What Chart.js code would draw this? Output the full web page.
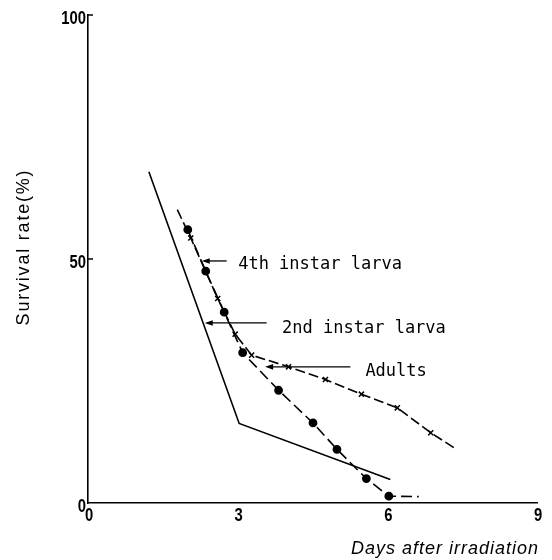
<!DOCTYPE html>
<html>
<head>
<meta charset="utf-8">
<script src="https://cdn.jsdelivr.net/npm/chart.js@4/dist/chart.umd.min.js"></script>
<style>
  html, body { margin: 0; padding: 0; background: #fff; }
  #wrap { width: 552px; height: 560px; position: relative; }
</style>
</head>
<body>
<div id="wrap"><canvas id="survivalChart" width="552" height="560"></canvas></div>
<script>
'use strict';

// values (days, survival %)
var days2nd = [1.22, 3.03, 6.06];
var surv2nd = [67.9, 16.3, 4.8];

var days4th = [2.00, 2.36, 2.73, 3.10, 3.82, 4.51, 4.99, 5.58, 6.03, 6.63];
var surv4th = [56.0, 47.5, 39.1, 30.8, 23.1, 16.4, 11.0, 5.0, 1.4, 1.3];

var daysAdult = [1.79, 2.06, 2.60, 2.95, 3.28, 4.02, 4.76, 5.48, 6.20, 6.87, 7.37];
var survAdult = [60.1, 54.3, 41.9, 34.6, 30.3, 27.9, 25.3, 22.3, 19.5, 14.4, 11.1];

var xTicks = [0, 3, 6, 9];
var yTicks = [0, 50, 100];

// labels with arrows: [text, arrow tip x, arrow tail x, arrow y, text x, text y]
var labels = [
  ['4th instar larva', 2.28, 2.78, 49.6, 3.01, 48.8],
  ['2nd instar larva', 2.34, 3.58, 36.9, 3.89, 35.8],
  ['Adults',           3.55, 5.26, 27.9, 5.56, 27.0]
];

function toPoints(xs, ys) {
  var pts = [];
  for (var i = 0; i < xs.length; i++) {
    pts.push({x: xs[i], y: ys[i]});
  }
  return pts;
}

// markers on every point except open line ends
function markerRadii(n, skipFirst, skipLast, r) {
  var out = [];
  for (var i = 0; i < n; i++) {
    if ((skipFirst && i === 0) || (skipLast && i === n - 1)) out.push(0);
    else out.push(r);
  }
  return out;
}

// condensed tick numbers, squeezed horizontally like the printed ones
function narrowText(ctx, txt, x, y, align) {
  var squeeze = 0.78;
  var w = ctx.measureText(txt).width * squeeze;
  var left = align === 'right' ? x - w : (align === 'center' ? x - w / 2 : x);
  ctx.save();
  ctx.translate(left, y);
  ctx.scale(squeeze, 1);
  ctx.textAlign = 'left';
  ctx.fillText(txt, 0, 0);
  ctx.restore();
}

var extras = {
  id: 'extras',
  afterDraw: function(chart) {
    var ctx = chart.ctx;
    var sx = chart.scales.x, sy = chart.scales.y;
    var area = chart.chartArea;
    ctx.save();
    ctx.strokeStyle = '#000';
    ctx.fillStyle = '#000';

    // small inward ticks on the y axis
    ctx.lineWidth = 1.5;
    for (var t = 1; t < yTicks.length; t++) {
      var ty = sy.getPixelForValue(yTicks[t]);
      ctx.beginPath();
      ctx.moveTo(area.left, ty);
      ctx.lineTo(area.left + 5, ty);
      ctx.stroke();
    }

    // tick numbers
    ctx.font = 'bold 19px "Liberation Sans", Arial, sans-serif';
    ctx.textBaseline = 'middle';
    for (var a = 0; a < yTicks.length; a++) {
      narrowText(ctx, String(yTicks[a]), area.left - 2, sy.getPixelForValue(yTicks[a]) + 4, 'right');
    }
    ctx.textBaseline = 'top';
    for (var b = 0; b < xTicks.length; b++) {
      narrowText(ctx, String(xTicks[b]), sx.getPixelForValue(xTicks[b]) + 1, area.bottom + 3, 'center');
    }

    // arrows + curve names
    ctx.font = '17px "DejaVu Sans Mono", "Liberation Mono", monospace';
    ctx.textBaseline = 'middle';
    ctx.textAlign = 'left';
    for (var i = 0; i < labels.length; i++) {
      var l = labels[i];
      var tip = sx.getPixelForValue(l[1]);
      var tail = sx.getPixelForValue(l[2]);
      var ay = sy.getPixelForValue(l[3]);
      ctx.lineWidth = 1.3;
      ctx.beginPath();
      ctx.moveTo(tail, ay);
      ctx.lineTo(tip + 6, ay);
      ctx.stroke();
      ctx.beginPath();
      ctx.moveTo(tip, ay);
      ctx.lineTo(tip + 8, ay - 2.8);
      ctx.lineTo(tip + 8, ay + 2.8);
      ctx.closePath();
      ctx.fill();
      ctx.fillText(l[0], sx.getPixelForValue(l[4]), sy.getPixelForValue(l[5]));
    }

    // axis titles
    ctx.letterSpacing = '1.8px';
    ctx.font = '18px "Liberation Sans", Arial, sans-serif';
    ctx.textAlign = 'center';
    ctx.save();
    ctx.translate(24, (area.top + area.bottom) / 2 - 12);
    ctx.rotate(-Math.PI / 2);
    ctx.fillText('Survival rate(%)', 0, 0);
    ctx.restore();

    ctx.letterSpacing = '1px';
    ctx.font = 'italic 18px "Liberation Sans", Arial, sans-serif';
    ctx.fillText('Days after irradiation', 445, 549);
    ctx.restore();
  }
};

new Chart(document.getElementById('survivalChart'), {
  type: 'scatter',
  data: {
    datasets: [
      {
        label: '2nd instar larva',
        data: toPoints(days2nd, surv2nd),
        showLine: true,
        borderColor: '#000',
        borderWidth: 1.6,
        pointRadius: 0
      },
      {
        label: '4th instar larva',
        data: toPoints(days4th, surv4th),
        showLine: true,
        borderColor: '#000',
        borderWidth: 1.6,
        borderDash: [11, 5],
        pointStyle: 'circle',
        pointRadius: markerRadii(days4th.length, false, true, 3.6),
        pointBackgroundColor: '#000',
        pointBorderColor: '#000'
      },
      {
        label: 'Adults',
        data: toPoints(daysAdult, survAdult),
        showLine: true,
        borderColor: '#000',
        borderWidth: 1.6,
        borderDash: [10, 4],
        pointStyle: 'crossRot',
        pointRadius: markerRadii(daysAdult.length, true, true, 3.6),
        pointBorderWidth: 1.5,
        pointBorderColor: '#000'
      }
    ]
  },
  options: {
    responsive: false,
    animation: false,
    layout: {padding: {top: 15, right: 15, left: 0, bottom: 0}},
    plugins: {
      legend: {display: false},
      tooltip: {enabled: false}
    },
    scales: {
      x: {
        type: 'linear',
        min: 0,
        max: 9,
        afterBuildTicks: function(scale) {
          scale.ticks = xTicks.map(function(v) { return {value: v}; });
        },
        afterFit: function(scale) { scale.height = 57; },
        grid: {display: false, drawTicks: false},
        border: {display: true, color: '#000', width: 1.6},
        ticks: {display: false}
      },
      y: {
        type: 'linear',
        min: 0,
        max: 100,
        afterBuildTicks: function(scale) {
          scale.ticks = yTicks.map(function(v) { return {value: v}; });
        },
        afterFit: function(scale) { scale.width = 88; },
        grid: {display: false, drawTicks: false},
        border: {display: true, color: '#000', width: 1.6},
        ticks: {display: false}
      }
    }
  },
  plugins: [extras]
});
</script>
</body>
</html>
